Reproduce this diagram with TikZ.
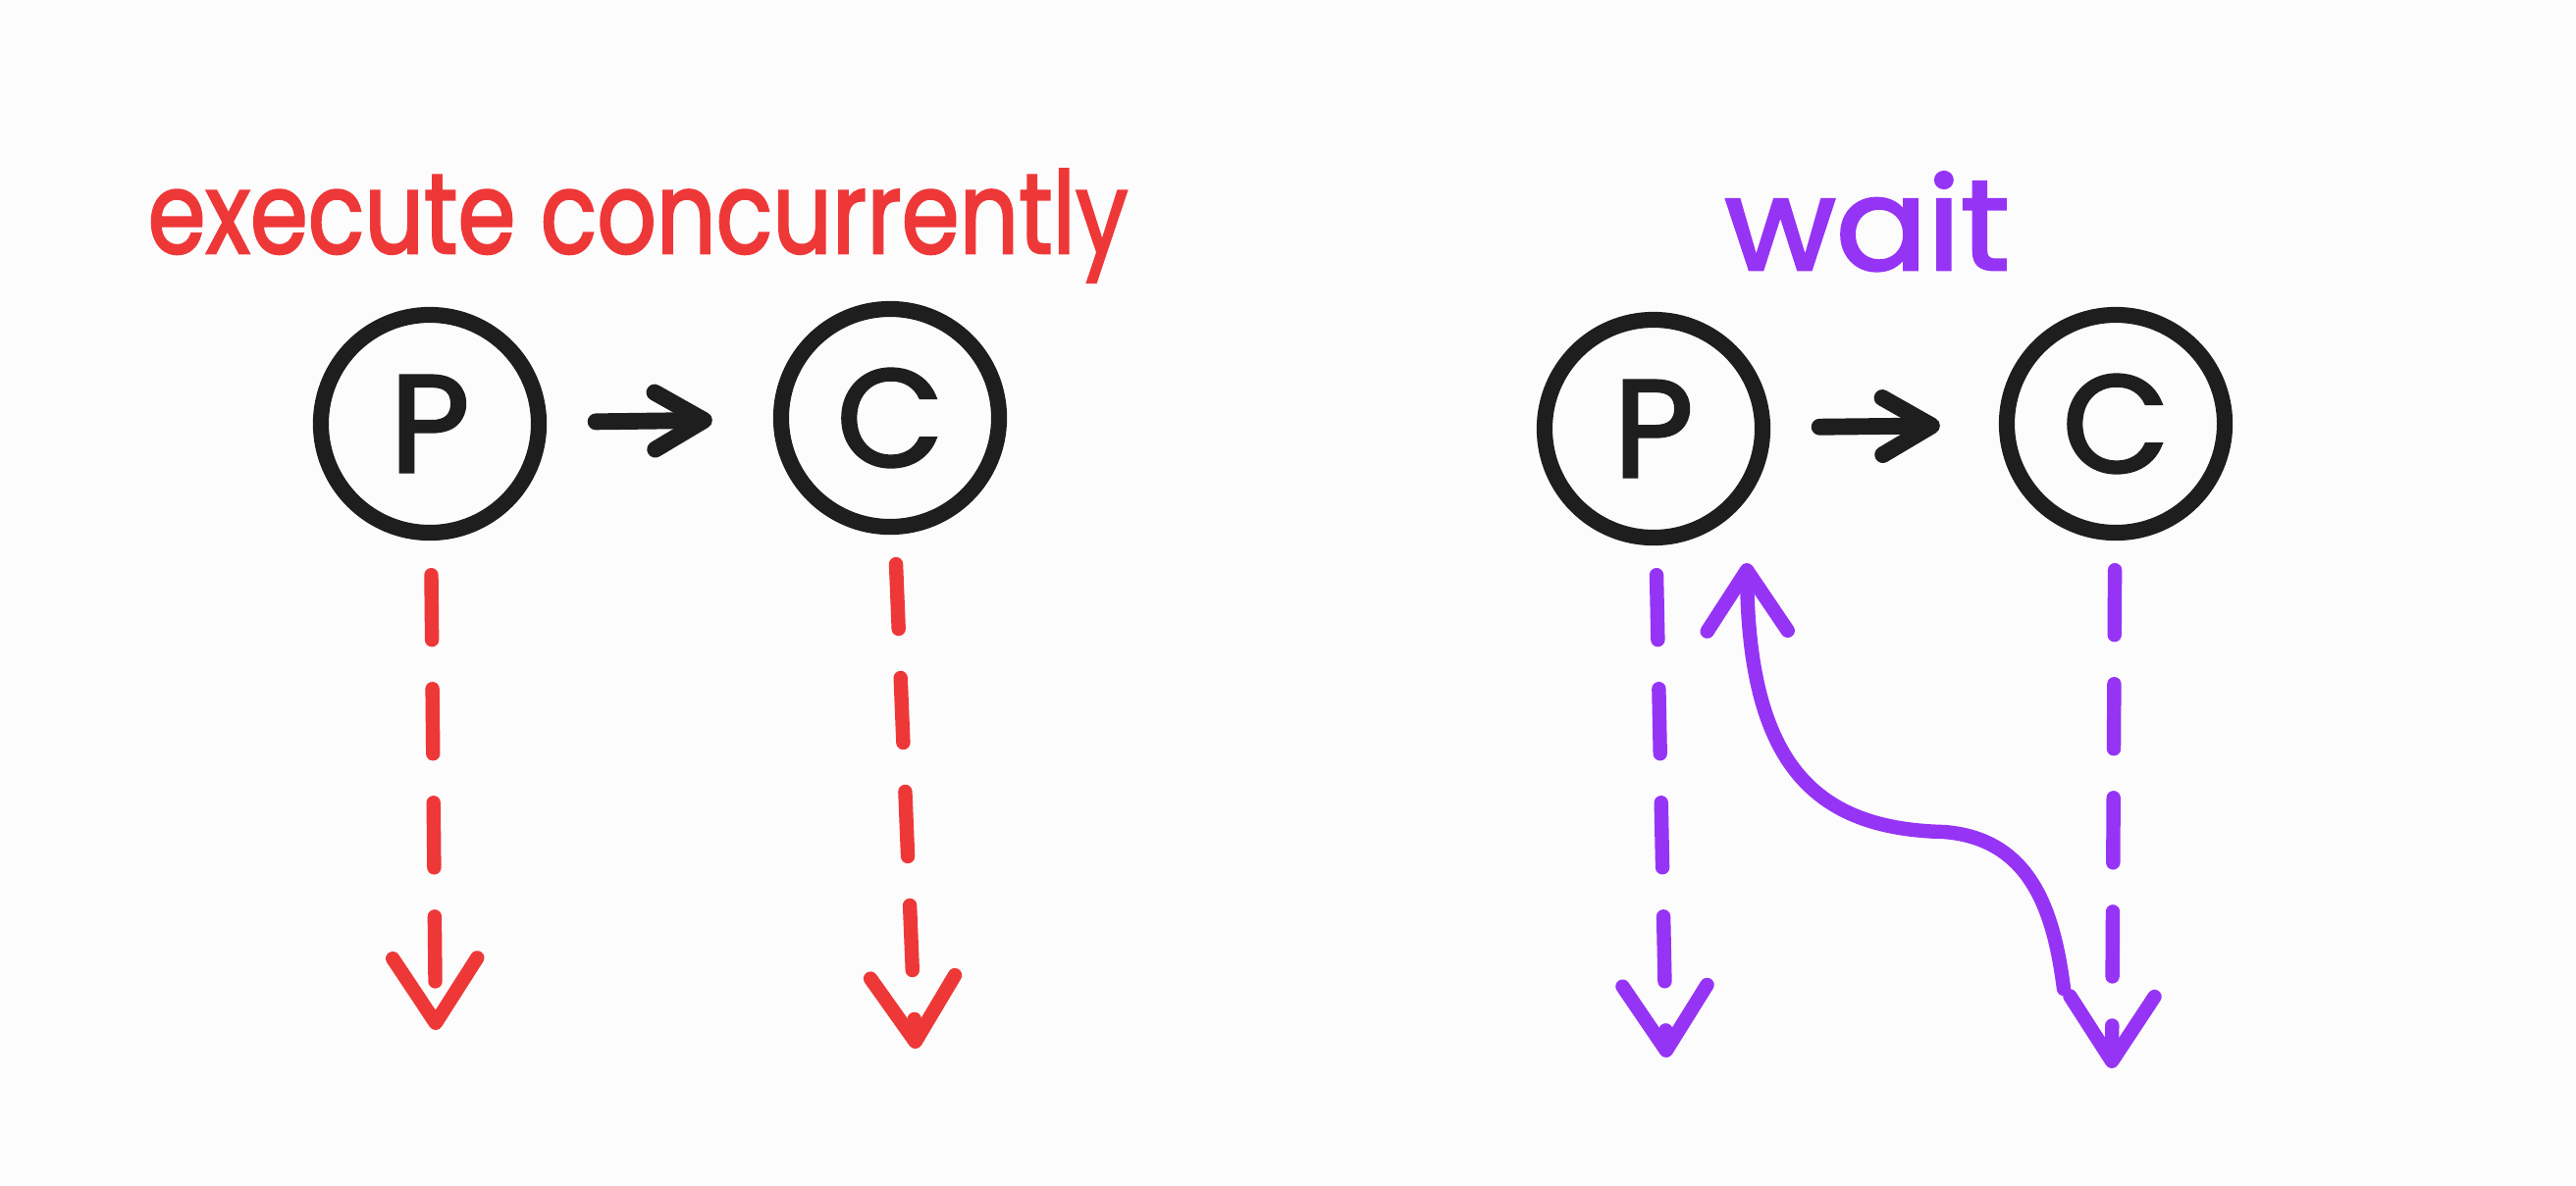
\documentclass[tikz,border=0pt]{standalone}
\usepackage{fontspec}
\usepackage{graphicx}
\setmainfont{Poppins}
\newfontfamily\handfont{Poppins}[FakeBold=2.2]
\usetikzlibrary{arrows.meta}
\definecolor{hred}{RGB}{238,56,56}
\definecolor{hpurple}{RGB}{150,52,245}
\definecolor{hblack}{RGB}{30,30,30}
\definecolor{bgcol}{RGB}{252,252,253}
\begin{document}
\begin{tikzpicture}[x=0.01cm,y=-0.01cm,
  proc/.style={circle, draw=hblack, line width=4.6pt, minimum size=2.22cm, inner sep=0pt,
    font=\fontsize{40}{44}\handfont, text=hblack},
  flow/.style={draw=hblack, line width=4.8pt, line cap=round,
    -{Straight Barb[length=0.5cm,width=0.58cm,round]}},
  life/.style={line width=4.1pt, line cap=round, dash pattern=on 0.66cm off 0.5cm,
    -{Straight Barb[length=0.66cm,width=0.86cm,round]}},
  waitcurve/.style={draw=hpurple, line width=4.1pt, line cap=round,
    -{Straight Barb[length=0.62cm,width=0.82cm,round]}},
  title/.style={anchor=base west, inner sep=0pt}
]
\fill[bgcol] (0,0) rectangle (2625,1208);
\useasboundingbox (0,0) rectangle (2625,1208);

% titles
\node[title, text=hred] (t1) at (150,258) {\resizebox{9.98cm}{!}{\scalebox{1}[1.22]{\handfont execute concurrently}}};
\node[title, text=hpurple] (t2) at (1757,275) {\resizebox{2.9cm}{!}{\scalebox{1}[0.95]{\handfont wait}}};

% left group
\node[proc] (lP) at (438,432) {P};
\node[proc] (lC) at (907,426) {C};
\draw[flow, shorten <=0.5cm, shorten >=0.62cm] (lP) -- (lC);
\coordinate (lPend) at (444,1050);
\coordinate (lCend) at (933,1069);
\draw[life, hred, shorten <=0.35cm] (lP) -- (lPend);
\draw[life, hred, shorten <=0.3cm] (lC) -- (lCend);

% right group
\node[proc] (rP) at (1685,437) {P};
\node[proc] (rC) at (2156,432) {C};
\draw[flow, shorten <=0.5cm, shorten >=0.6cm] (rP) -- (rC);
\coordinate (rPend) at (1698,1078);
\coordinate (rCend) at (2152,1089);
\draw[life, hpurple, shorten <=0.3cm] (rP) -- (rPend);
\draw[life, hpurple, shorten <=0.3cm] (rC) -- (rCend);

% wait return curve
\coordinate (cstart) at (2103,1008);
\coordinate (rPret) at (1780,574);
\draw[waitcurve] (cstart) .. controls (2093,930) and (2070,855) .. (1981,848)
  .. controls (1850,845) and (1782,780) .. (rPret);
\end{tikzpicture}
\end{document}
